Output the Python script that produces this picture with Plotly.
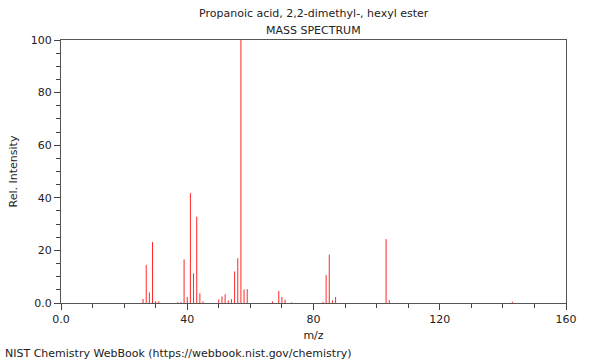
import plotly.graph_objects as go

mz = [26, 27, 28, 29, 30, 31, 37, 38, 39, 40, 41, 42, 43, 44, 45,
      50, 51, 52, 53, 54, 55, 56, 57, 58, 59,
      67, 69, 70, 71, 73, 83, 84, 85, 86, 87, 103, 104, 143]
intensity = [1.5, 14.5, 4.0, 23.2, 0.7, 0.7, 0.3, 0.3, 16.6, 2.3, 41.8, 11.3, 32.8, 3.7, 0.6,
             1.4, 2.5, 3.3, 1.0, 1.5, 12.0, 17.0, 100.0, 5.1, 5.3,
             0.6, 4.6, 2.3, 1.3, 0.2, 0.4, 10.6, 18.4, 1.0, 2.3, 24.3, 1.1, 0.5]

title_lines = ["Propanoic acid, 2,2-dimethyl-, hexyl ester", "MASS SPECTRUM"]
x_ticks = [0, 40, 80, 120, 160]
x_labels = ["0.0", "40", "80", "120", "160"]
y_ticks = [0, 20, 40, 60, 80, 100]
y_labels = ["0.0", "20", "40", "60", "80", "100"]

xs, ys = [], []
for m, v in zip(mz, intensity):
    xs += [m, m, None]
    ys += [0, v, None]

fig = go.Figure()
fig.add_trace(go.Scatter(x=xs, y=ys, mode="lines",
                         line=dict(color="rgb(255,40,40)", width=1),
                         hoverinfo="skip", showlegend=False))

font = dict(family="DejaVu Sans", size=11, color="#222")
axis_common = dict(showgrid=False, zeroline=False, showline=True,
                   linecolor="#555", linewidth=1, mirror=True,
                   ticks="outside", ticklen=6, tickcolor="#444",
                   tickfont=font, automargin=False)

fig.update_layout(
    width=600, height=360,
    margin=dict(l=61, r=34, t=40, b=57),
    paper_bgcolor="white", plot_bgcolor="white",
    font=font,
    xaxis=dict(range=[0, 160], tickvals=x_ticks, ticktext=x_labels,
               minor=dict(dtick=10, tick0=0, ticklen=4, tickcolor="#444", ticks="outside"),
               title=dict(text="m/z", font=font, standoff=6),
               **axis_common),
    yaxis=dict(range=[0, 100], tickvals=y_ticks, ticktext=y_labels,
               minor=dict(dtick=5, tick0=0, ticklen=4, tickcolor="#444", ticks="outside"),
               title=dict(text="Rel. Intensity", font=font, standoff=10),
               **axis_common),
    annotations=[
        dict(text=title_lines[0], x=0.5, y=1, xref="paper", yref="paper",
             yshift=27, showarrow=False, font=font, xanchor="center", yanchor="middle"),
        dict(text=title_lines[1], x=0.5, y=1, xref="paper", yref="paper",
             yshift=10, showarrow=False, font=font, xanchor="center", yanchor="middle"),
        dict(text="NIST Chemistry WebBook (https://webbook.nist.gov/chemistry)",
             x=0, y=0, xref="paper", yref="paper", xshift=-58, yshift=-50,
             showarrow=False, font=font, xanchor="left", yanchor="middle"),
    ],
)

fig.write_html("out.html", config={"displayModeBar": False},
               post_script="document.body.style.margin='0';document.body.style.padding='0';")
